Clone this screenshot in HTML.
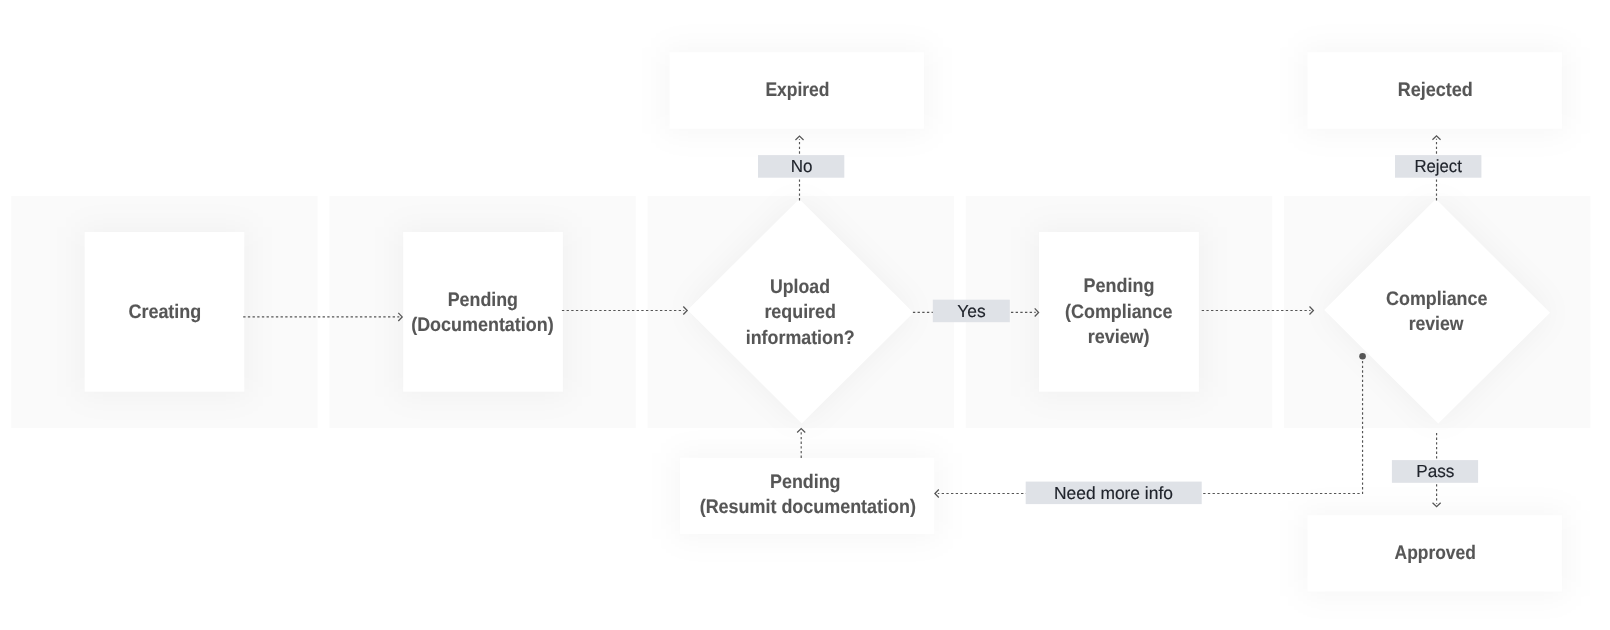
<!DOCTYPE html>
<html>
<head>
<meta charset="utf-8">
<title>Flow</title>
<style>
html,body{margin:0;padding:0;}
body{width:1610px;height:630px;background:#fff;position:relative;overflow:hidden;font-family:"Liberation Sans",sans-serif;}
svg{position:absolute;left:0;top:0;will-change:transform;text-rendering:geometricPrecision;}
.pn{fill:#fafafa;}
.bsh{fill:rgba(0,0,0,0.034);filter:url(#bs);}
.dsh{fill:rgba(0,0,0,0.045);filter:url(#sh);}
.t{font-family:"Liberation Sans",sans-serif;font-weight:bold;font-size:19.5px;fill:#565656;stroke:#565656;stroke-width:0.12px;}
.l{font-family:"Liberation Sans",sans-serif;font-weight:normal;font-size:17.5px;fill:#20242c;stroke:#20242c;stroke-width:0.15px;}
.ln{stroke:#555;stroke-width:1.17;fill:none;stroke-dasharray:2.34 2.33;}
.ah{stroke:#555;stroke-width:1.25;fill:none;}
.lb{fill:#dfe2e7;}
</style>
</head>
<body>
<svg width="1610" height="630" viewBox="0 0 1610 630">
  <defs>
    <filter id="bs" filterUnits="userSpaceOnUse" x="0" y="0" width="1610" height="630"><feGaussianBlur stdDeviation="15"/></filter>
    <filter id="sh" filterUnits="userSpaceOnUse" x="0" y="0" width="1610" height="630"><feGaussianBlur stdDeviation="15"/></filter>
  </defs>
  <!-- swimlane panels -->
  <rect class="pn" x="11.2" y="195.9" width="306.4" height="232.0"/>
  <rect class="pn" x="329.4" y="195.9" width="306.4" height="232.0"/>
  <rect class="pn" x="647.6" y="195.9" width="306.4" height="232.0"/>
  <rect class="pn" x="965.8" y="195.9" width="306.4" height="232.0"/>
  <rect class="pn" x="1284.0" y="195.9" width="306.4" height="232.0"/>
  <!-- state boxes -->
  <g class="bsh">
    <rect x="79.6" y="227.0" width="169.7" height="169.7"/>
    <rect x="398.2" y="227.0" width="169.7" height="169.7"/>
    <rect x="1034.0" y="227.0" width="169.9" height="169.7"/>
    <rect x="664.6" y="47.3" width="264.3" height="86.4"/>
    <rect x="1302.5" y="47.3" width="264.3" height="86.4"/>
    <rect x="1302.5" y="510.3" width="264.3" height="86.2"/>
    <rect x="675.1" y="452.9" width="264.1" height="86.0"/>
  </g>
  <rect fill="#fff" x="84.6" y="232.0" width="159.7" height="159.7"/>
  <rect fill="#fff" x="403.2" y="232.0" width="159.7" height="159.7"/>
  <rect fill="#fff" x="1039.0" y="232.0" width="159.9" height="159.7"/>
  <rect fill="#fff" x="669.6" y="52.3" width="254.3" height="76.4"/>
  <rect fill="#fff" x="1307.5" y="52.3" width="254.3" height="76.4"/>
  <rect fill="#fff" x="1307.5" y="515.3" width="254.3" height="76.2"/>
  <rect fill="#fff" x="680.1" y="457.9" width="254.1" height="76.0"/>
  <!-- decision diamonds -->
  <polygon class="dsh" points="799.3,199.0 913.4,312.7 801.7,423.6 687.6,309.9"/>
  <polygon fill="#fff" points="799.3,199.0 913.4,312.7 801.7,423.6 687.6,309.9"/>
  <polygon class="dsh" points="1435.9,199.0 1550.0,312.7 1438.3,423.6 1324.2,309.9"/>
  <polygon fill="#fff" points="1435.9,199.0 1550.0,312.7 1438.3,423.6 1324.2,309.9"/>
  <!-- connectors -->
  <path class="ln" d="M243.20 316.90 L399.30 316.90"/>
  <path class="ah" d="M398.30 320.95 L402.20 316.90 L398.30 312.85"/>
  <path class="ln" d="M561.90 310.50 L684.30 310.50"/>
  <path class="ah" d="M683.30 314.55 L687.20 310.50 L683.30 306.45"/>
  <path class="ln" d="M912.90 312.45 L1035.70 312.45"/>
  <path class="ah" d="M1034.70 316.50 L1038.60 312.45 L1034.70 308.40"/>
  <path class="ln" d="M1201.70 310.50 L1310.50 310.50"/>
  <path class="ah" d="M1309.50 314.55 L1313.40 310.50 L1309.50 306.45"/>
  <path class="ln" d="M799.50 200.40 L799.50 139.00"/>
  <path class="ah" d="M803.55 140.00 L799.50 136.10 L795.45 140.00"/>
  <path class="ln" d="M1436.50 200.40 L1436.50 138.80"/>
  <path class="ah" d="M1440.55 139.80 L1436.50 135.90 L1432.45 139.80"/>
  <path class="ln" d="M801.20 457.90 L801.20 431.50"/>
  <path class="ah" d="M805.25 432.50 L801.20 428.60 L797.15 432.50"/>
  <path class="ln" d="M1436.60 432.90 L1436.60 503.70"/>
  <path class="ah" d="M1432.55 502.70 L1436.60 506.60 L1440.65 502.70"/>
  <path class="ln" d="M1362.55 356.30 L1362.55 493.50 L937.80 493.50"/>
  <path class="ah" d="M938.80 489.45 L934.90 493.50 L938.80 497.55"/>
  <circle cx="1362.55" cy="356.3" r="3.3" fill="#555"/>
  <!-- labels -->
  <rect class="lb" x="758" y="155.1" width="86.3" height="22.6"/>
  <rect class="lb" x="1395" y="155.1" width="86.4" height="22.6"/>
  <rect class="lb" x="932.8" y="299.7" width="77" height="22.5"/>
  <rect class="lb" x="1391.9" y="460.1" width="86.2" height="22.7"/>
  <rect class="lb" x="1025.7" y="481.6" width="176" height="22.5"/>
  <!-- text -->
  <text class="l" x="790.76" y="172.0" textLength="21.71" lengthAdjust="spacingAndGlyphs">No</text>
  <text class="l" x="1414.42" y="172.0" textLength="47.42" lengthAdjust="spacingAndGlyphs">Reject</text>
  <text class="l" x="957.32" y="317.0" textLength="28.34" lengthAdjust="spacingAndGlyphs">Yes</text>
  <text class="l" x="1416.19" y="477.0" textLength="38.16" lengthAdjust="spacingAndGlyphs">Pass</text>
  <text class="l" x="1053.98" y="499.0" textLength="118.96" lengthAdjust="spacingAndGlyphs">Need more info</text>
  <text class="t" x="128.43" y="318.0" textLength="72.88" lengthAdjust="spacingAndGlyphs">Creating</text>
  <text class="t" x="447.74" y="306.0" textLength="70.21" lengthAdjust="spacingAndGlyphs">Pending</text>
  <text class="t" x="411.18" y="331.0" textLength="142.52" lengthAdjust="spacingAndGlyphs">(Documentation)</text>
  <text class="t" x="770.06" y="293.0" textLength="59.92" lengthAdjust="spacingAndGlyphs">Upload</text>
  <text class="t" x="764.42" y="318.0" textLength="71.55" lengthAdjust="spacingAndGlyphs">required</text>
  <text class="t" x="745.75" y="344.0" textLength="108.99" lengthAdjust="spacingAndGlyphs">information?</text>
  <text class="t" x="1083.61" y="292.0" textLength="70.73" lengthAdjust="spacingAndGlyphs">Pending</text>
  <text class="t" x="1065.09" y="318.0" textLength="107.39" lengthAdjust="spacingAndGlyphs">(Compliance</text>
  <text class="t" x="1087.65" y="343.0" textLength="61.95" lengthAdjust="spacingAndGlyphs">review)</text>
  <text class="t" x="1386.11" y="305.0" textLength="101.28" lengthAdjust="spacingAndGlyphs">Compliance</text>
  <text class="t" x="1408.69" y="330.0" textLength="54.78" lengthAdjust="spacingAndGlyphs">review</text>
  <text class="t" x="765.41" y="96.0" textLength="64.07" lengthAdjust="spacingAndGlyphs">Expired</text>
  <text class="t" x="1397.86" y="96.0" textLength="74.93" lengthAdjust="spacingAndGlyphs">Rejected</text>
  <text class="t" x="1394.62" y="559.0" textLength="81.24" lengthAdjust="spacingAndGlyphs">Approved</text>
  <text class="t" x="770.01" y="488.0" textLength="70.55" lengthAdjust="spacingAndGlyphs">Pending</text>
  <text class="t" x="699.68" y="513.0" textLength="216.24" lengthAdjust="spacingAndGlyphs">(Resumit documentation)</text>
</svg>
</body>
</html>
